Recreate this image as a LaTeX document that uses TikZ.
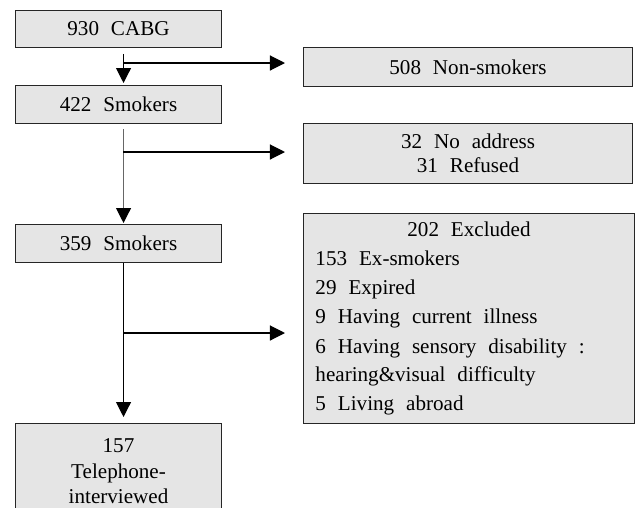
\documentclass[tikz,border=0pt]{standalone}
\usepackage{fontspec}
\setmainfont{Liberation Serif}
\usetikzlibrary{arrows.meta}
\newcommand\widespace{\spaceskip 8.5pt plus 1pt\relax}

\begin{document}
\begin{tikzpicture}[x=0.025cm, y=-0.025cm,
    box/.style={draw=black!85, fill=black!10, line width=0.7pt, inner sep=0pt,
      font=\fontsize{15}{20.4}\selectfont\widespace},
    arr/.style={line width=0.8pt, -{Triangle[length=0.375cm, width=0.375cm, color=black]}}]
  \useasboundingbox (0,0) rectangle (640,508);
  % left column
  \node[box, anchor=north west, minimum width=5.15cm, minimum height=0.925cm] (cabg) at (15,10) {930 CABG};
  \node[box, anchor=north west, minimum width=5.15cm, minimum height=0.95cm] (s422) at (15,85) {422 Smokers};
  \node[box, anchor=north west, minimum width=5.15cm, minimum height=0.95cm] (s359) at (15,224) {359 Smokers};
  \node[box, anchor=north west, minimum width=5.15cm, minimum height=2.4cm, align=center] (s157) at (15,423)
    {157\\[-2.2pt] Telephone-\\[-2.2pt] interviewed};
  % right column
  \node[box, anchor=north west, minimum width=8.225cm, minimum height=0.975cm] (nonsmk) at (303,47) {508 Non-smokers};
  \node[box, anchor=north west, minimum width=8.225cm, minimum height=1.5cm, align=center] (noaddr) at (303,123)
    {\raisebox{-3pt}{32 No address}\\[-3.4pt] \raisebox{-3pt}{31 Refused}};
  \node[box, anchor=north west, minimum height=5.25cm, text width=7.675cm, inner xsep=0.3cm, align=left] (excl) at (303,213)
    {\widespace\makebox[\linewidth]{202 Excluded}\\
     153 Ex-smokers\\
     29 Expired\\[0.6pt]
     9 Having current illness\\[0.6pt]
     6 Having sensory disability :\\
     hearing\&visual difficulty\\
     5 Living abroad};
  % connectors
  \coordinate (b1) at (123,63);
  \coordinate (b2) at (123,152);
  \coordinate (b3) at (123,333);
  \draw[arr, shorten <=0.15cm, shorten >=0.05cm] ([xshift=0.125cm]cabg.south) -- ([xshift=0.125cm]s422.north);
  \draw[arr, shorten >=0.45cm] (b1) -- (b1 -| nonsmk.west);
  \draw[arr, draw=black!60, shorten <=0.125cm, shorten >=0.025cm] ([xshift=0.125cm]s422.south) -- ([xshift=0.125cm]s359.north);
  \draw[arr, shorten >=0.45cm] (b2) -- (b2 -| noaddr.west);
  \draw[arr, shorten >=0.15cm] ([xshift=0.125cm]s359.south) -- ([xshift=0.125cm]s157.north);
  \draw[arr, shorten >=0.45cm] (b3) -- (b3 -| excl.west);
\end{tikzpicture}
\end{document}
